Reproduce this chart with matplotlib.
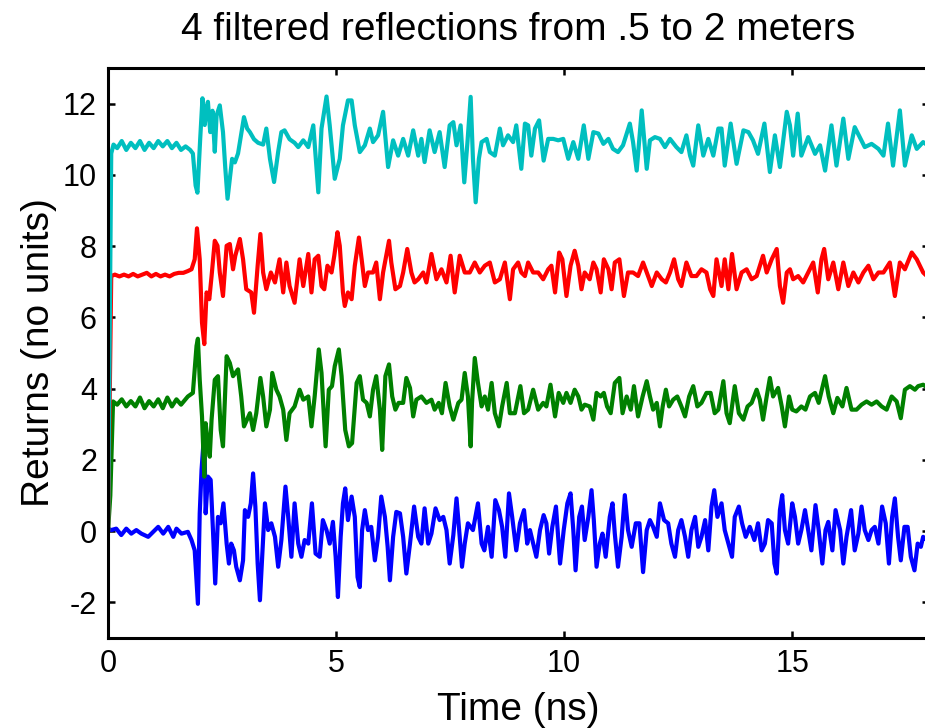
import matplotlib
matplotlib.use("Agg")
import matplotlib.pyplot as plt

plt.rcParams['font.family'] = ['Liberation Sans', 'DejaVu Sans']
plt.rcParams['axes.unicode_minus'] = False

# Returns, one (time, value) list per reflection
blue_t = [0, 0.07, 0.18, 0.29, 0.40, 0.51, 0.62, 0.73, 0.88, 0.99, 1.10, 1.21, 1.32, 1.43, 1.50, 1.61, 1.75, 1.83, 1.90, 1.94,
          1.97, 2.01, 2.05, 2.11, 2.14, 2.19, 2.25, 2.30, 2.35, 2.41, 2.47, 2.53, 2.60, 2.65, 2.70, 2.76, 2.81, 2.89, 2.96, 3.00,
          3.07, 3.13, 3.18, 3.23, 3.28, 3.33, 3.38, 3.44, 3.51, 3.58, 3.66, 3.73, 3.80, 3.89, 3.95, 4.02, 4.09, 4.17, 4.24, 4.31,
          4.39, 4.47, 4.55, 4.64, 4.71, 4.79, 4.86, 4.93, 4.99, 5.04, 5.10, 5.15, 5.20, 5.26, 5.34, 5.41, 5.47, 5.52, 5.57, 5.63,
          5.70, 5.77, 5.85, 5.92, 5.99, 6.07, 6.13, 6.18, 6.25, 6.32, 6.40, 6.47, 6.54, 6.62, 6.71, 6.80, 6.87, 6.94, 7.02, 7.09,
          7.18, 7.27, 7.35, 7.42, 7.49, 7.57, 7.64, 7.71, 7.76, 7.82, 7.89, 8.00, 8.11, 8.19, 8.25, 8.33, 8.41, 8.49, 8.57, 8.64,
          8.71, 8.79, 8.86, 8.95, 9.03, 9.12, 9.19, 9.25, 9.32, 9.39, 9.47, 9.55, 9.61, 9.67, 9.74, 9.82, 9.91, 9.99, 10.07, 10.14,
          10.20, 10.25, 10.33, 10.39, 10.45, 10.53, 10.60, 10.65, 10.71, 10.78, 10.84, 10.91, 11.00, 11.06, 11.11, 11.18, 11.26,
          11.33, 11.40, 11.48, 11.57, 11.65, 11.73, 11.81, 11.88, 11.95, 12.03, 12.10, 12.19, 12.28, 12.35, 12.43, 12.50, 12.57,
          12.65, 12.72, 12.79, 12.87, 12.94, 13.01, 13.09, 13.16, 13.23, 13.29, 13.36, 13.45, 13.52, 13.60, 13.68, 13.74, 13.83,
          13.90, 13.98, 14.07, 14.17, 14.25, 14.33, 14.40, 14.47, 14.55, 14.61, 14.66, 14.73, 14.78, 14.84, 14.91, 15.00, 15.06,
          15.13, 15.20, 15.28, 15.35, 15.42, 15.51, 15.58, 15.66, 15.73, 15.79, 15.88, 15.95, 16.05, 16.12, 16.19, 16.29, 16.37,
          16.45, 16.52, 16.59, 16.67, 16.74, 16.81, 16.89, 16.97, 17.05, 17.12, 17.19, 17.25, 17.32, 17.38, 17.46, 17.53, 17.60,
          17.68, 17.75, 17.82, 17.87, 18.0]
blue_y = [0.07, 0.03, 0.07, -0.11, 0.07, -0.07, 0.03, -0.07, -0.16, -0.02, 0.12, -0.07, 0.12, -0.16, 0.07, -0.07, -0.02, -0.25, -0.54, -1.38,
          -2.04, 0.50, 1.72, 2.80, 0.50, 1.53, 1.44, 0.03, -1.47, 0.40, 0.22, 0.78, -0.35, -0.91, -0.35, -0.54, -1.00, -1.38, -0.82, 0.59,
          0.40, 0.78, 1.62, 0.69, -0.91, -1.94, -0.72, 0.78, 0.03, 0.22, -0.16, -1.00, -0.25, 1.25, 0.40, -0.72, 0.78, -0.35, -0.72, -0.25,
          -0.35, 0.78, -0.63, -0.72, 0.31, 0.03, -0.35, 0.26, -0.72, -1.85, -0.16, 0.78, 1.20, 0.31, 0.97, 0.40, -1.29, -1.57, 0.03, 0.59,
          0.03, 0.12, -0.82, -0.16, 0.97, 0.40, -0.44, -1.38, -0.16, 0.54, 0.50, -0.16, -1.19, -0.35, 0.69, -0.16, -0.35, 0.64, -0.35, -0.07,
          0.64, 0.31, 0.40, 0.03, -0.91, -0.11, 0.92, -0.16, -1.00, -0.35, 0.22, 0.03, 0.78, -0.35, -0.54, 0.12, -0.72, 0.87, 0.59, 0.12,
          -0.72, 1.06, 0.40, -0.54, 0.22, 0.59, -0.35, 0.03, -0.35, -0.72, 0.03, 0.45, 0.22, -0.63, 0.12, 0.69, -0.91, 0.03, 0.78, 1.06,
          0.03, -1.10, 0.40, 0.69, -0.25, 0.40, 1.15, 0.31, -1.00, -0.35, -0.07, -0.72, 0.40, 0.78, -0.07, -1.00, -0.16,
          1.01, 0.03, -0.44, 0.22, 0.22, -1.15, 0.03, 0.31, 0.12, -0.16, 0.78, 0.31, 0.22, -0.35, -0.72, 0.03, 0.31,
          -0.16, -0.72, 0.03, 0.40, -0.44, -0.16, 0.31, -0.54, 0.69, 1.15, 0.40, 0.78, 0.03, -0.35, -0.72, 0.40, 0.69,
          0.22, -0.16, 0.12, -0.25, 0.22, -0.54, -0.35, 0.31, 0.22, -0.91, -1.19, 0.59, 1.01, 0.03, -0.35, 0.78, 0.40,
          -0.35, 0.03, 0.59, 0.03, -0.54, 0.73, 0.03, -0.91, 0.03, 0.26, -0.54, 0.59, 0.03, -0.91, -0.16, 0.59, -0.54,
          -0.07, 0.69, 0.03, -0.25, 0.03, 0.12, -0.35, 0.69, 0.22, -0.91, 0.40, 0.92, -0.16, -0.82, 0.12, 0.12, -0.72,
          -1.10, -0.35, -0.44, -0.16, -0.3]

green_t = [0, 0.05, 0.11, 0.2, 0.3, 0.4, 0.5, 0.6, 0.7, 0.8, 0.9, 1.0, 1.1, 1.2, 1.3, 1.4, 1.5, 1.6, 1.75, 1.86,
           1.94, 1.97, 2.01, 2.06, 2.11, 2.14, 2.18, 2.23, 2.27, 2.34, 2.41, 2.47, 2.52, 2.60, 2.67, 2.74, 2.85, 2.92, 2.98, 3.11,
           3.18, 3.25, 3.34, 3.40, 3.47, 3.55, 3.60, 3.69, 3.76, 3.84, 3.91, 3.98, 4.09, 4.20, 4.28, 4.39, 4.46, 4.53, 4.62, 4.68,
           4.77, 4.84, 4.91, 4.97, 5.06, 5.12, 5.20, 5.28, 5.35, 5.45, 5.52, 5.59, 5.67, 5.74, 5.81, 5.88, 5.96, 6.01, 6.08, 6.16,
           6.23, 6.30, 6.37, 6.47, 6.54, 6.62, 6.69, 6.76, 6.87, 6.98, 7.09, 7.16, 7.25, 7.32, 7.40, 7.49, 7.57, 7.68, 7.75, 7.82,
           7.89, 7.95, 7.98, 8.04, 8.11, 8.19, 8.26, 8.33, 8.41, 8.48, 8.57, 8.64, 8.74, 8.81, 8.92, 8.98, 9.04, 9.12, 9.21, 9.32,
           9.43, 9.54, 9.61, 9.70, 9.80, 9.88, 9.98, 10.05, 10.14, 10.23, 10.31, 10.38, 10.45, 10.56, 10.64, 10.71, 10.80, 10.87,
           10.94, 11.02, 11.11, 11.21, 11.28, 11.37, 11.46, 11.53, 11.62, 11.72, 11.81, 11.88, 11.95, 12.03, 12.10, 12.16, 12.23,
           12.30, 12.39, 12.48, 12.57, 12.65, 12.74, 12.83, 12.92, 13.01, 13.12, 13.21, 13.30, 13.38, 13.49, 13.56, 13.63, 13.74,
           13.83, 13.93, 14.02, 14.11, 14.22, 14.29, 14.36, 14.44, 14.51, 14.58, 14.69, 14.77, 14.84, 14.93, 15.00, 15.09, 15.20,
           15.29, 15.39, 15.50, 15.58, 15.72, 15.80, 15.90, 15.99, 16.10, 16.19, 16.30, 16.41, 16.52, 16.63, 16.74, 16.85, 16.96,
           17.07, 17.18, 17.29, 17.38, 17.47, 17.58, 17.69, 17.76, 17.87, 18.0]
green_y = [0.0, 1.0, 3.64, 3.55, 3.7, 3.5, 3.65, 3.5, 3.75, 3.45, 3.65, 3.5, 3.7, 3.45, 3.75, 3.5, 3.7, 3.55, 3.78, 3.88,
           5.2, 5.4, 4.25, 3.22, 1.53, 3.03, 2.56, 2.09, 3.13, 4.25, 4.35, 2.84, 2.38, 4.91, 4.72, 4.35, 4.54, 3.78, 2.94, 3.31,
           2.84, 3.31, 4.30, 3.78, 2.94, 3.41, 4.44, 3.97, 3.78, 3.41, 2.56, 3.31, 3.50, 3.97, 3.69, 3.78, 2.94, 3.78, 5.10, 4.44,
           2.38, 3.97, 4.07, 4.63, 5.10, 4.35, 2.84, 2.38, 2.47, 4.16, 4.35, 3.69, 3.60, 3.22, 3.97, 4.35, 3.41, 2.28, 4.35, 4.68,
           3.78, 3.41, 3.60, 3.60, 4.30, 4.02, 3.22, 3.69, 3.78, 3.60, 3.69, 3.41, 3.60, 3.31, 4.16, 3.50, 3.13, 3.60, 3.69, 4.44,
           3.78, 2.38, 3.60, 4.86, 4.16, 3.50, 3.78, 3.41, 4.16, 3.31, 2.94, 3.50, 4.16, 3.31, 3.31, 3.69, 4.07, 3.31, 3.41, 3.97,
           3.41, 3.60, 3.50, 4.11, 3.22, 3.88, 3.60, 3.88, 3.60, 3.97, 3.78, 3.41, 3.55, 3.50, 3.13, 3.88, 3.78, 3.88,
           3.50, 3.31, 4.16, 4.30, 3.31, 3.78, 3.41, 4.07, 3.22, 3.78, 4.21, 3.78, 3.41, 3.60, 2.94, 3.50, 3.97,
           3.50, 3.69, 3.78, 3.50, 3.22, 3.78, 4.07, 3.50, 3.60, 3.88, 3.88, 3.31, 3.41, 4.21, 3.31, 3.03, 4.07,
           3.31, 3.13, 3.50, 3.60, 3.97, 3.69, 3.13, 3.78, 4.30, 3.78, 4.02, 3.50, 2.94, 3.78, 3.41, 3.36, 3.50,
           3.41, 3.78, 3.88, 3.60, 4.35, 3.78, 3.31, 3.74, 3.50, 4.02, 3.41, 3.41, 3.55, 3.64, 3.55, 3.64, 3.50,
           3.41, 3.78, 3.64, 3.17, 3.97, 4.07, 3.97, 4.07, 4.11, 4.0]

red_t = [0, 0.07, 0.15, 0.25, 0.35, 0.45, 0.55, 0.65, 0.75, 0.85, 0.95, 1.05, 1.15, 1.25, 1.35, 1.45, 1.55, 1.65, 1.75, 1.83,
         1.90, 1.95, 2.01, 2.06, 2.11, 2.16, 2.22, 2.27, 2.34, 2.40, 2.45, 2.52, 2.60, 2.67, 2.74, 2.79, 2.89, 2.96, 3.03, 3.14,
         3.20, 3.28, 3.34, 3.40, 3.47, 3.57, 3.66, 3.76, 3.84, 3.91, 3.98, 4.09, 4.20, 4.28, 4.39, 4.46, 4.53, 4.61, 4.68, 4.74,
         4.81, 4.90, 4.96, 5.03, 5.08, 5.15, 5.19, 5.26, 5.34, 5.41, 5.50, 5.56, 5.63, 5.70, 5.81, 5.88, 5.96, 6.03, 6.16, 6.21,
         6.30, 6.40, 6.47, 6.56, 6.65, 6.72, 6.80, 6.91, 6.98, 7.09, 7.20, 7.31, 7.42, 7.51, 7.60, 7.71, 7.82, 7.93, 8.04, 8.15,
         8.26, 8.37, 8.48, 8.59, 8.70, 8.81, 8.88, 8.99, 9.06, 9.14, 9.21, 9.32, 9.43, 9.54, 9.65, 9.72, 9.80, 9.89, 9.96, 10.05,
         10.14, 10.23, 10.31, 10.38, 10.45, 10.56, 10.64, 10.71, 10.80, 10.87, 10.97, 11.04, 11.11, 11.21, 11.31, 11.40, 11.51,
         11.62, 11.73, 11.81, 11.92, 12.03, 12.14, 12.23, 12.32, 12.41, 12.50, 12.57, 12.68, 12.79, 12.90, 13.01, 13.12, 13.20,
         13.27, 13.34, 13.45, 13.52, 13.60, 13.68, 13.78, 13.89, 14.00, 14.11, 14.22, 14.29, 14.36, 14.44, 14.55, 14.66, 14.73,
         14.80, 14.88, 14.95, 15.02, 15.13, 15.24, 15.35, 15.46, 15.56, 15.64, 15.70, 15.79, 15.90, 16.01, 16.12, 16.23, 16.34,
         16.45, 16.56, 16.67, 16.78, 16.89, 17.0, 17.14, 17.25, 17.36, 17.47, 17.62, 17.73, 17.87, 18.0]
red_y = [0.0, 7.16, 7.2, 7.15, 7.2, 7.15, 7.22, 7.15, 7.2, 7.25, 7.15, 7.22, 7.15, 7.2, 7.15, 7.22, 7.25, 7.25, 7.3, 7.35,
         7.63, 8.5, 7.63, 5.85, 5.25, 6.70, 6.51, 7.16, 8.15, 8.01, 7.26, 6.60, 8.01, 8.06, 7.35, 7.73, 8.20, 7.63, 6.79, 6.70,
         6.13, 7.45, 8.34, 7.26, 6.79, 7.26, 6.98, 7.63, 6.70, 7.54, 6.88, 6.41, 7.63, 6.88, 7.78, 6.70, 7.63, 7.73, 6.88, 6.79,
         7.45, 7.26, 7.73, 8.39, 8.01, 6.70, 6.32, 6.70, 6.51, 7.45, 8.24, 7.63, 6.88, 7.26, 7.26, 7.54, 6.51, 7.26, 8.15, 7.54,
         6.79, 6.88, 7.26, 7.92, 7.26, 6.98, 7.07, 7.26, 6.98, 7.78, 7.07, 7.35, 6.98, 7.73, 6.70, 7.73, 7.26, 7.26, 7.54, 7.26,
         7.45, 7.54, 6.98, 7.07, 7.54, 6.51, 7.35, 7.54, 7.26, 7.16, 7.54, 7.26, 7.26, 7.07, 7.35, 7.45, 6.70, 7.82, 7.63, 6.60,
         7.45, 7.87, 7.45, 6.79, 7.26, 7.07, 7.54, 7.35, 6.70, 7.63, 7.35, 6.79, 7.54, 7.63, 6.60, 7.26, 7.26,
         7.16, 7.54, 7.26, 6.88, 7.26, 7.07, 6.98, 7.26, 7.63, 7.07, 6.88, 7.54, 7.16, 7.16, 7.35, 7.26, 6.79,
         6.60, 7.63, 6.88, 7.63, 6.79, 7.78, 6.79, 7.26, 7.35, 7.07, 7.16, 7.45, 7.73, 7.26, 7.63, 7.92, 6.88,
         6.41, 7.26, 7.35, 7.07, 7.16, 6.98, 7.26, 7.54, 6.70, 7.63, 7.92, 7.07, 7.54, 6.79, 7.54, 6.88, 7.26,
         6.98, 7.26, 7.45, 7.07, 7.26, 7.26, 7.54, 6.60, 7.54, 7.35, 7.82, 7.63, 7.26, 7.1]

cyan_t = [0, 0.07, 0.12, 0.2, 0.3, 0.4, 0.5, 0.6, 0.7, 0.8, 0.9, 1.0, 1.1, 1.2, 1.3, 1.4, 1.5, 1.6, 1.7, 1.8,
          1.86, 1.92, 1.96, 2.02, 2.07, 2.12, 2.16, 2.19, 2.24, 2.29, 2.34, 2.38, 2.45, 2.52, 2.57, 2.62, 2.67, 2.72, 2.78, 2.85,
          2.98, 3.05, 3.11, 3.2, 3.29, 3.40, 3.47, 3.55, 3.64, 3.73, 3.80, 3.87, 3.98, 4.09, 4.17, 4.28, 4.39, 4.50, 4.61, 4.68,
          4.79, 4.86, 4.97, 5.08, 5.15, 5.26, 5.34, 5.41, 5.52, 5.63, 5.74, 5.81, 5.92, 6.03, 6.14, 6.25, 6.36, 6.47, 6.58, 6.69,
          6.80, 6.87, 6.94, 7.05, 7.16, 7.27, 7.38, 7.49, 7.57, 7.64, 7.73, 7.81, 7.88, 7.95, 8.00, 8.06, 8.13, 8.19, 8.30, 8.37,
          8.48, 8.59, 8.66, 8.77, 8.88, 8.95, 9.06, 9.14, 9.21, 9.28, 9.36, 9.45, 9.55, 9.65, 9.76, 9.87, 9.98, 10.09, 10.20,
          10.31, 10.43, 10.53, 10.64, 10.75, 10.86, 10.97, 11.07, 11.18, 11.29, 11.44, 11.51, 11.59, 11.70, 11.81, 11.88, 11.99,
          12.10, 12.21, 12.32, 12.46, 12.57, 12.68, 12.76, 12.83, 12.94, 13.05, 13.16, 13.27, 13.38, 13.45, 13.52, 13.65, 13.78,
          13.93, 14.04, 14.14, 14.25, 14.39, 14.51, 14.62, 14.73, 14.88, 14.95, 15.02, 15.12, 15.20, 15.35, 15.50, 15.61, 15.72,
          15.86, 15.97, 16.12, 16.23, 16.37, 16.48, 16.59, 16.74, 16.89, 17.0, 17.10, 17.21, 17.36, 17.47, 17.62, 17.73, 17.87, 18.0]
cyan_y = [0.0, 10.6, 10.85, 10.75, 10.95, 10.7, 10.9, 10.75, 10.95, 10.7, 10.9, 10.75, 10.95, 10.8, 10.95, 10.75, 10.9, 10.7, 10.8, 10.7,
          10.6, 9.7, 9.5, 11.0, 12.15, 11.4, 11.9, 12.05, 11.2, 11.8, 10.65, 11.67, 11.95, 11.2, 10.2, 9.33, 9.9, 10.45, 10.35, 10.6,
          11.62, 11.3, 11.2, 11.0, 10.9, 10.85, 11.3, 10.45, 9.8, 10.65, 11.2, 11.25, 11.0, 10.9, 10.78, 10.97, 10.78, 11.39, 9.51, 11.30,
          12.20, 11.39, 9.89, 10.45, 11.39, 12.09, 12.09, 11.39, 10.64, 10.83, 11.30, 10.92, 11.11, 11.77, 10.22, 10.97, 10.54, 11.01, 10.54, 11.25,
          10.54, 11.01, 10.36, 11.25, 10.64, 11.20, 10.22, 11.39, 11.48, 10.83, 11.39, 9.79, 10.92, 12.19, 10.45, 9.23, 10.45, 10.92, 11.01, 10.64,
          10.54, 11.30, 10.83, 11.11, 10.92, 11.39, 10.17, 11.44, 11.39, 10.54, 11.30, 11.53, 10.40, 11.01, 11.01, 10.97, 11.01, 10.45, 10.92,
          10.45, 11.39, 10.45, 11.20, 11.16, 10.87, 11.01, 10.73, 10.64, 10.83, 11.44, 10.92, 10.12, 11.81, 10.17, 10.97, 11.06,
          11.01, 10.78, 11.01, 10.78, 10.64, 11.11, 10.54, 10.26, 11.39, 10.54, 11.01, 10.54, 11.30, 11.30, 10.26, 11.44, 10.31,
          11.25, 11.20, 10.97, 10.59, 11.44, 10.08, 11.11, 10.22, 11.77, 11.39, 10.54, 11.72, 10.54, 11.06, 10.59, 10.83, 10.12,
          11.39, 10.26, 11.58, 10.45, 11.34, 11.06, 10.78, 10.87, 10.73, 10.54, 11.44, 10.26, 11.81, 10.26, 11.11, 10.73, 10.92, 10.8]

x_ticks = [0, 5, 10, 15]
y_ticks = [-2, 0, 2, 4, 6, 8, 10, 12]

fig = plt.figure(figsize=(9.25, 7.28), dpi=100)
# right edge of the box sits just past the picture, as in the reference
ax = fig.add_axes([0.1168, 0.1236, 0.8876, 0.7830])

for t, y, c in [(blue_t, blue_y, '#0000ff'), (green_t, green_y, '#008000'),
                (red_t, red_y, '#ff0000'), (cyan_t, cyan_y, '#00bfbf')]:
    ax.plot(t, y, color=c, lw=3.0, solid_joinstyle='round', solid_capstyle='round')

ax.set_xlim(0, 18)
ax.set_ylim(-3, 13)
ax.set_xticks(x_ticks)
ax.set_yticks(y_ticks)
ax.tick_params(direction='in', length=5, width=1.8, labelsize=22, top=True, right=True, pad=8)
for s in ax.spines.values():
    s.set_linewidth(2.2)

ax.set_title('4 filtered reflections from .5 to 2 meters', fontsize=28, pad=20)
ax.set_xlabel('Time (ns)', fontsize=28, labelpad=9)
ax.set_ylabel('Returns (no units)', fontsize=28, labelpad=4)

fig.savefig('out.png', dpi=100)
